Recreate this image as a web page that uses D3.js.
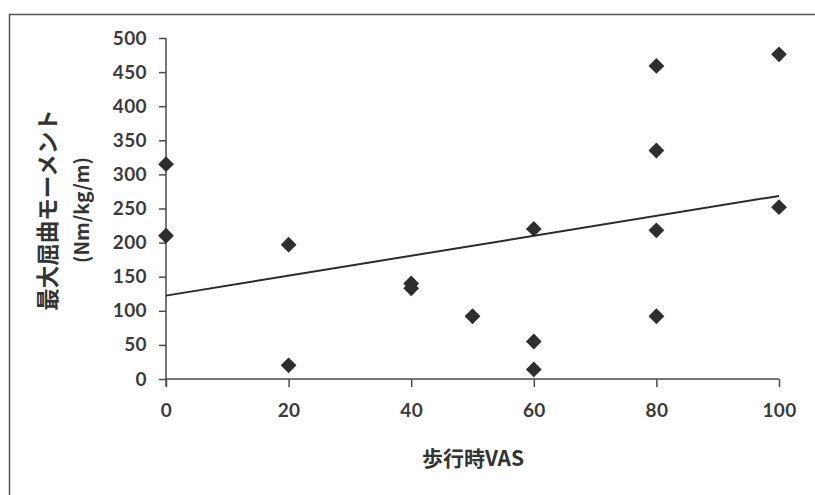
<!DOCTYPE html>
<html>
<head>
<meta charset="utf-8">
<script src="https://cdn.jsdelivr.net/npm/d3@7"></script>
<style>
  html, body { margin: 0; padding: 0; background: #fff; }
  svg { display: block; }
  .tick text { font-family: Lato, "Open Sans", sans-serif; font-weight: bold; fill: #3a3a3a; letter-spacing: 0.4px; }
</style>
</head>
<body>
<svg id="chart" width="815" height="495"></svg>
<script>
// Walking VAS vs. peak flexion moment
const vasValues    = [0, 0, 20, 20, 40, 40, 50, 60, 60, 60, 80, 80, 80, 80, 100, 100];
const momentValues = [315, 210, 197, 20, 140, 133, 92, 220, 55, 14, 459, 335, 218, 92, 476, 252];
const xTicks = [0, 20, 40, 60, 80, 100];
const yTicks = [0, 50, 100, 150, 200, 250, 300, 350, 400, 450, 500];
const xTitle = "歩行時VAS";
const yTitleLines = ["最大屈曲モーメント", "(Nm/kg/m)"];

const points = vasValues.map((v, i) => ({ x: v, y: momentValues[i] }));

const svg = d3.select("#chart");
const ink = "#333";
const axisInk = "#4a4a4a";

// Outer frame (runs off the right and bottom edges)
svg.append("rect")
  .attr("x", 9.5).attr("y", 14.5)
  .attr("width", 830).attr("height", 510)
  .attr("fill", "none").attr("stroke", "#555").attr("stroke-width", 1.5);

const x = d3.scaleLinear().domain([0, 100]).range([166, 779]);
const y = d3.scaleLinear().domain([0, 500]).range([379, 38]);

// Y axis
const yAxis = svg.append("g")
  .attr("transform", `translate(${x(0)},0)`)
  .call(d3.axisLeft(y).tickValues(yTicks).tickSize(7).tickPadding(12).tickFormat(d3.format("d")));
yAxis.select(".domain").attr("stroke", axisInk).attr("stroke-width", 1.5).attr("d", `M0,${y(500)}V${y(0) + 7}`);
yAxis.selectAll(".tick line").attr("stroke", axisInk).attr("stroke-width", 1.5);
yAxis.selectAll(".tick text").attr("font-size", 19);

// X axis
const xAxis = svg.append("g")
  .attr("transform", `translate(0,${y(0)})`)
  .call(d3.axisBottom(x).tickValues(xTicks).tickSize(8).tickPadding(17).tickFormat(d3.format("d")));
xAxis.select(".domain").attr("stroke", axisInk).attr("stroke-width", 1.5).attr("d", `M${x(0)},0H${x(100)}`);
xAxis.selectAll(".tick line").attr("stroke", axisInk).attr("stroke-width", 1.5);
xAxis.selectAll(".tick text").attr("font-size", 19);

// Least-squares trend line
const mx = d3.mean(points, d => d.x);
const my = d3.mean(points, d => d.y);
const slope = d3.sum(points, d => (d.x - mx) * (d.y - my)) / d3.sum(points, d => (d.x - mx) ** 2);
const intercept = my - slope * mx;
const trend = [0, 100].map(v => ({ x: v, y: intercept + slope * v }));
svg.append("path")
  .datum(trend)
  .attr("d", d3.line().x(d => x(d.x)).y(d => y(d.y)))
  .attr("fill", "none").attr("stroke", "#2a2a2a").attr("stroke-width", 2);

// Diamond markers
const diamond = d3.symbol().type(d3.symbolSquare).size(125);
svg.append("g").selectAll("path")
  .data(points)
  .join("path")
  .attr("d", diamond)
  .attr("transform", d => `translate(${x(d.x)},${y(d.y)}) rotate(45)`)
  .attr("fill", "#2e2e2e");

// Axis titles
svg.append("text")
  .attr("x", 473).attr("y", 466)
  .attr("text-anchor", "middle")
  .attr("font-family", "'Noto Sans CJK JP', sans-serif")
  .attr("font-weight", "bold").attr("font-size", 21).attr("fill", ink)
  .text(xTitle);

const yTitle = svg.append("text")
  .attr("transform", "translate(0,210) rotate(-90)")
  .attr("text-anchor", "middle")
  .attr("font-family", "'Noto Sans CJK JP', sans-serif")
  .attr("font-weight", "bold").attr("fill", ink);
yTitle.append("tspan").attr("x", 0).attr("y", 56).attr("font-size", 22.5).text(yTitleLines[0]);
yTitle.append("tspan").attr("x", 0).attr("y", 89).attr("font-size", 19.5).text(yTitleLines[1]);
</script>
</body>
</html>
